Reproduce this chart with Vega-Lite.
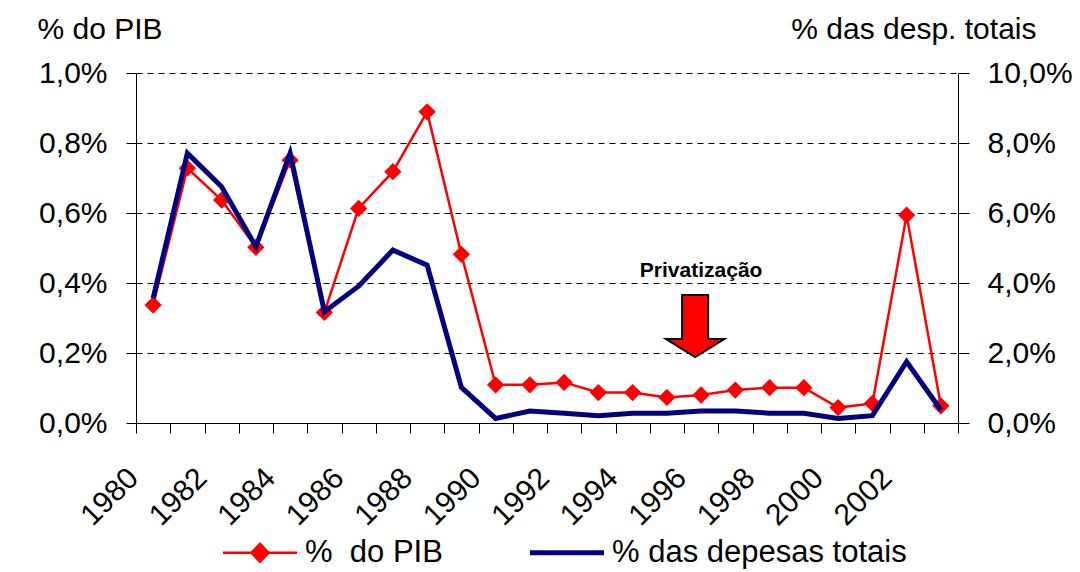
{
  "$schema": "https://vega.github.io/schema/vega-lite/v6.json",
  "width": 822,
  "height": 350,
  "autosize": "none",
  "padding": {"left": 136, "top": 73, "right": 122, "bottom": 149},
  "background": "white",
  "config": {"view": {"stroke": null}, "font": "Liberation Sans"},
  "data": {"values": [
    {"year": "1980", "pib": 0.337, "desp": 3.56},
    {"year": "1981", "pib": 0.728, "desp": 7.71},
    {"year": "1982", "pib": 0.637, "desp": 6.75},
    {"year": "1983", "pib": 0.502, "desp": 5.04},
    {"year": "1984", "pib": 0.751, "desp": 7.71},
    {"year": "1985", "pib": 0.316, "desp": 3.18},
    {"year": "1986", "pib": 0.613, "desp": 3.91},
    {"year": "1987", "pib": 0.718, "desp": 4.94},
    {"year": "1988", "pib": 0.889, "desp": 4.51},
    {"year": "1989", "pib": 0.482, "desp": 1.02},
    {"year": "1990", "pib": 0.109, "desp": 0.13},
    {"year": "1991", "pib": 0.109, "desp": 0.34},
    {"year": "1992", "pib": 0.116, "desp": 0.28},
    {"year": "1993", "pib": 0.087, "desp": 0.21},
    {"year": "1994", "pib": 0.087, "desp": 0.28},
    {"year": "1995", "pib": 0.073, "desp": 0.28},
    {"year": "1996", "pib": 0.08, "desp": 0.34},
    {"year": "1997", "pib": 0.094, "desp": 0.34},
    {"year": "1998", "pib": 0.101, "desp": 0.28},
    {"year": "1999", "pib": 0.101, "desp": 0.28},
    {"year": "2000", "pib": 0.044, "desp": 0.13},
    {"year": "2001", "pib": 0.056, "desp": 0.21},
    {"year": "2002", "pib": 0.594, "desp": 1.75},
    {"year": "2003", "pib": 0.049, "desp": 0.37}
  ]},
  "encoding": {
    "x": {
      "field": "year", "type": "ordinal",
      "scale": {"paddingInner": 0, "paddingOuter": 0},
      "axis": {
        "title": null,
        "tickBand": "extent",
        "labelAngle": -45,
        "labelAlign": "right",
        "labelBaseline": "middle",
        "labelExpr": "toNumber(datum.value) % 2 === 0 ? datum.value : ''",
        "labelFontSize": 30,
        "labelColor": "#000",
        "labelPadding": 40,
        "labelOffset": -20,
        "tickSize": 10,
        "tickColor": "#000",
        "domainColor": "#000",
        "labelOverlap": false
      }
    }
  },
  "layer": [
    {
      "layer": [
        {
          "mark": {"type": "line", "strokeWidth": 2.5},
          "encoding": {
            "y": {
              "field": "pib", "type": "quantitative",
              "scale": {"domain": [0, 1]},
              "axis": {
                "orient": "left",
                "values": [0, 0.2, 0.4, 0.6, 0.8, 1],
                "labelExpr": "replace(format(datum.value, '.1f'), '.', ',') + '%'",
                "title": "% do PIB",
                "titleAngle": 0,
                "titleAlign": "left",
                "titleBaseline": "alphabetic",
                "titleX": -99,
                "titleY": -35,
                "titleFontSize": 30,
                "titleFontWeight": "normal",
                "titleColor": "#000",
                "labelFontSize": 30,
                "labelColor": "#000",
                "labelPadding": 19,
                "tickSize": 10,
                "tickColor": "#000",
                "domainColor": "#000",
                "grid": true,
                "gridDash": [6, 5],
                "gridColor": "#000",
                "gridWidth": 1
              }
            },
            "color": {
              "datum": "% do PIB", "type": "nominal",
              "scale": {"domain": ["% do PIB", "% das depesas totais"], "range": ["#ff0000", "#000080"]},
              "legend": {
                "orient": "none",
                "legendX": 87,
                "legendY": 464,
                "direction": "horizontal",
                "title": null,
                "labelFontSize": 31,
                "labelColor": "#000",
                "labelLimit": 600,
                "labelExpr": "datum.value === '% do PIB' ? '%\u00a0 do PIB' : datum.value",
                "symbolSize": 5476,
                "labelOffset": 9,
                "columnPadding": 77,
                "padding": 0,
                "encode": {
                  "symbols": {
                    "update": {
                      "x": {"value": 37},
                      "shape": {"signal": "datum.value === '% do PIB' ? 'M -1 0 L 1 0 M 0 -0.24 L 0.23 0 L 0 0.24 L -0.23 0 Z' : 'M -1 0 L 1 0'"},
                      "fill": {"signal": "datum.value === '% do PIB' ? '#ff0000' : 'transparent'"},
                      "stroke": {"signal": "datum.value === '% do PIB' ? '#ff0000' : '#000080'"},
                      "strokeWidth": {"signal": "datum.value === '% do PIB' ? 2.5 : 5"},
                      "opacity": {"value": 1}
                    }
                  },
                  "labels": {
                    "update": {
                      "x": {"value": 82}
                    }
                  }
                }
              }
            }
          }
        },
        {
          "mark": {"type": "point", "shape": "diamond", "filled": true, "size": 300, "opacity": 1},
          "encoding": {
            "y": {"field": "pib", "type": "quantitative"},
            "color": {"datum": "% do PIB", "type": "nominal"}
          }
        },
        {
          "data": {"values": [{"year": "1996", "v": 0.417, "label": "Privatização"}]},
          "mark": {"type": "text", "fontWeight": "bold", "fontSize": 21, "baseline": "alphabetic", "color": "#000"},
          "encoding": {
            "y": {"field": "v", "type": "quantitative"},
            "text": {"field": "label"}
          }
        },
        {
          "data": {"values": [{"year": "1996", "v": 0.277}]},
          "mark": {
            "type": "point",
            "shape": "M -0.42 -1 L 0.42 -1 L 0.42 0.42 L 0.94 0.42 L 0 1 L -0.94 0.42 L -0.42 0.42 Z",
            "filled": true, "fill": "#ff0000", "stroke": "#000", "strokeWidth": 2,
            "size": 3844, "xOffset": -6, "opacity": 1
          },
          "encoding": {
            "y": {"field": "v", "type": "quantitative"}
          }
        }
      ]
    },
    {
      "mark": {"type": "line", "strokeWidth": 5},
      "encoding": {
        "y": {
          "field": "desp", "type": "quantitative",
          "scale": {"domain": [0, 10]},
          "axis": {
            "orient": "right",
            "values": [0, 2, 4, 6, 8, 10],
            "labelExpr": "replace(format(datum.value, '.1f'), '.', ',') + '%'",
            "title": "% das desp. totais",
            "titleAngle": 0,
            "titleAlign": "right",
            "titleBaseline": "alphabetic",
            "titleX": 78,
            "titleY": -35,
            "titleFontSize": 30,
            "titleFontWeight": "normal",
            "titleColor": "#000",
            "labelFontSize": 30,
            "labelColor": "#000",
            "labelPadding": 18,
            "tickSize": 11,
            "tickColor": "#000",
            "domainColor": "#000",
            "grid": false
          }
        },
        "color": {"datum": "% das depesas totais", "type": "nominal"}
      }
    }
  ],
  "resolve": {"scale": {"y": "independent"}}
}
